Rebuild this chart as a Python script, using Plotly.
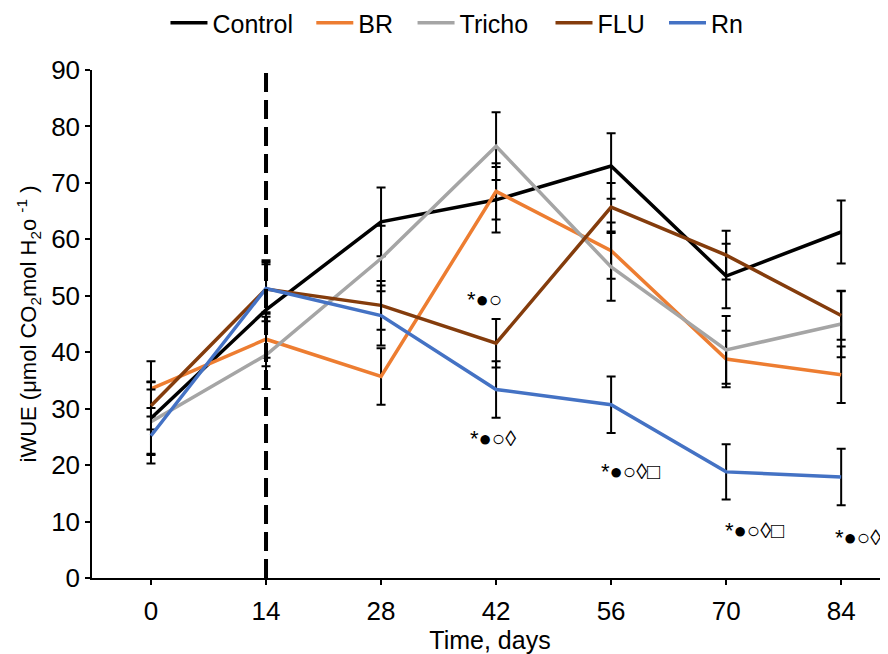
import plotly.graph_objects as go

days = [0, 14, 28, 42, 56, 70, 84]
series_names = ["Control", "BR", "Tricho", "FLU", "Rn"]
control = [28.3, 47.5, 63.1, 67.0, 73.0, 53.5, 61.3]
br = [33.5, 42.3, 35.7, 68.5, 58.0, 38.8, 36.0]
tricho = [27.7, 39.5, 56.6, 76.5, 55.1, 40.4, 45.0]
flu = [30.5, 51.2, 48.3, 41.6, 65.7, 57.2, 46.5]
rn = [25.2, 51.3, 46.5, 33.4, 30.7, 18.8, 17.9]

control_sd = [6.5, 8.5, 6.1, 5.8, 5.8, 5.7, 5.6]
br_sd = [4.9, 4.8, 5.0, 5.0, 5.0, 5.0, 5.0]
tricho_sd = [5.7, 6.0, 5.8, 6.0, 6.0, 6.0, 5.9]
flu_sd = [4.2, 4.4, 4.3, 4.3, 4.3, 4.3, 4.3]
rn_sd = [4.9, 5.0, 5.3, 5.0, 5.0, 4.9, 5.0]

colors = ["#000000", "#ED7D31", "#A5A5A5", "#843C0C", "#4472C4"]

treatment_day = 14

ann_day = [40.6, 41.6, 58.3, 73.4, 86.8]
ann_value = [49.4, 24.8, 18.8, 8.5, 7.1]
ann_text = ["*●○", "*●○◊", "*●○◊□", "*●○◊□", "*●○◊□"]

legend_ids = ["legend", "legend2", "legend3", "legend4", "legend5"]
legend_x = [0.0923, 0.2755, 0.4027, 0.5760, 0.7186]

fig = go.Figure()
for name, vals, sd, col, lid in zip(series_names, [control, br, tricho, flu, rn],
                                    [control_sd, br_sd, tricho_sd, flu_sd, rn_sd], colors, legend_ids):
    fig.add_trace(go.Scatter(
        x=days, y=vals, name=name, mode="lines", legend=lid,
        line=dict(color=col, width=3.5),
        error_y=dict(type="data", array=sd, visible=True, color="#000000",
                     thickness=2, width=4.5),
    ))

fig.add_shape(type="line", xref="x", yref="paper", x0=treatment_day, x1=treatment_day,
              y0=0, y1=1, line=dict(color="#000000", width=4, dash="19px,8px"), layer="above")

for d, v, t in zip(ann_day, ann_value, ann_text):
    fig.add_annotation(x=d, y=v, xref="x", yref="y", text=t, showarrow=False,
                       font=dict(family="Liberation Sans, Arial", size=22, color="#000000"))

legend_common = dict(orientation="h", xanchor="left", y=1.0925, yanchor="middle",
                     font=dict(size=25), itemwidth=37, bgcolor="rgba(0,0,0,0)")

layout_legends = {lid: dict(x=lx, **legend_common) for lid, lx in zip(legend_ids, legend_x)}

fig.update_layout(
    width=880, height=646,
    margin=dict(l=84, r=0, t=62, b=76, autoexpand=False),
    paper_bgcolor="white", plot_bgcolor="white",
    font=dict(family="Liberation Sans, Arial", size=24, color="#000000"),
    showlegend=True,
    xaxis=dict(range=[-7.18, 89.7], tickvals=days, ticktext=[str(d) for d in days],
               showgrid=False, zeroline=False, showline=True, linecolor="#000000", linewidth=1.5,
               ticks="outside", ticklen=5, tickwidth=1.5, tickcolor="#000000",
               tickfont=dict(size=26), ticklabelstandoff=4,
               title=dict(text="Time, days", font=dict(size=25), standoff=4)),
    yaxis=dict(range=[0, 90], dtick=10, showgrid=False, zeroline=False,
               showline=True, linecolor="#000000", linewidth=1.5,
               ticks="outside", ticklen=5, tickwidth=1.5, tickcolor="#000000",
               tickfont=dict(size=26),
               title=dict(text="iWUE (μmol CO<sub>2</sub>mol H<sub>2</sub>o <sup>-1</sup> )",
                          font=dict(size=22), standoff=8)),
    **layout_legends,
)

fig.write_html("out.html")
